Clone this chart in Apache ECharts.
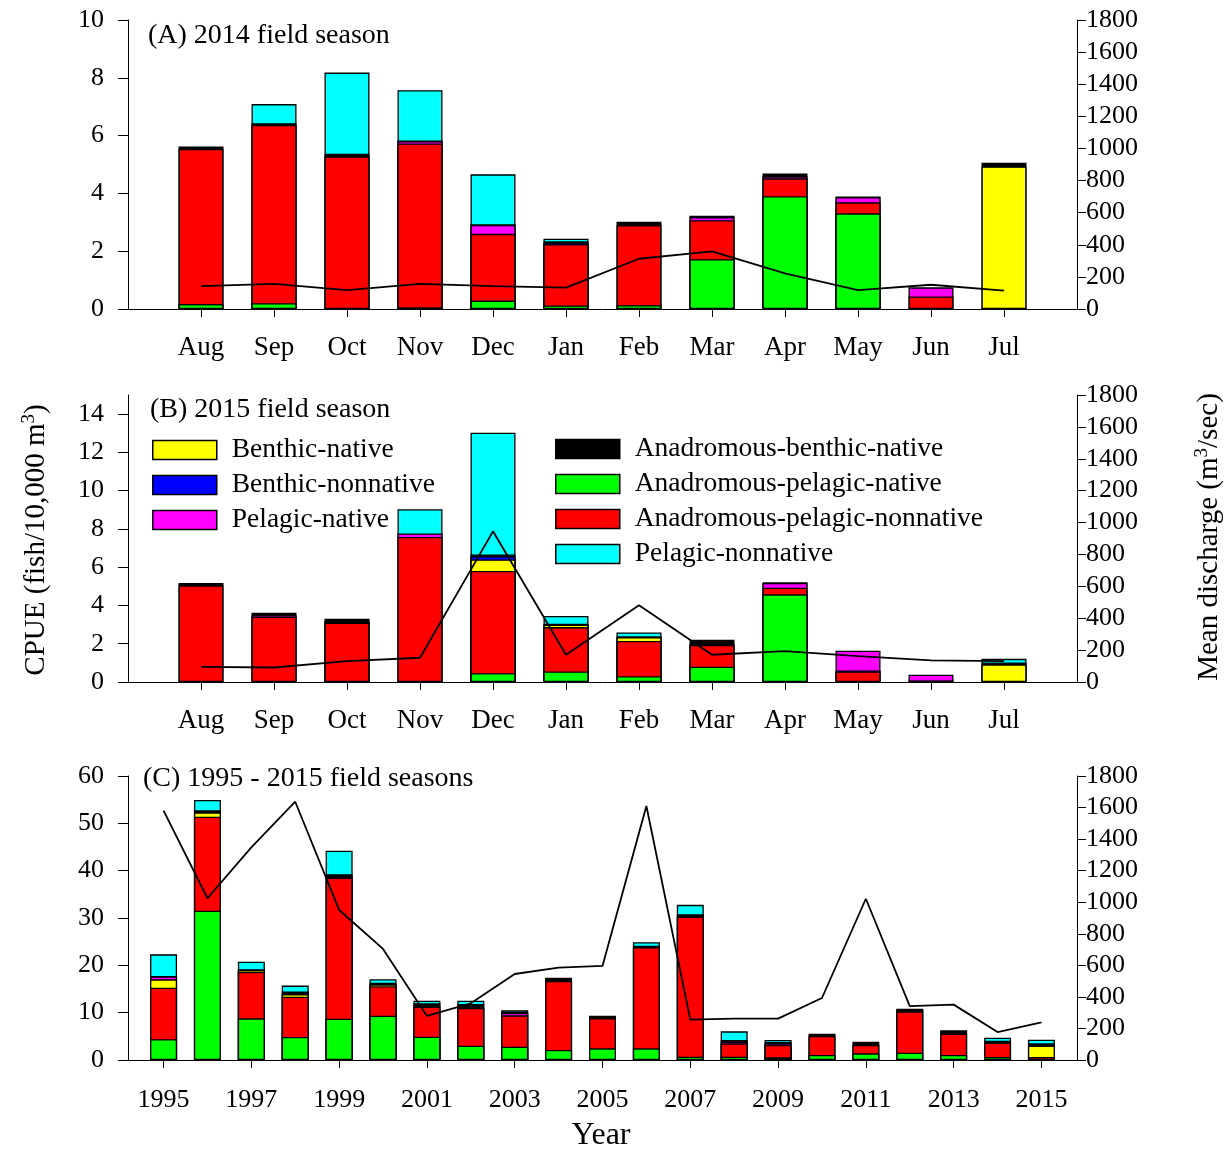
<!DOCTYPE html>
<html>
<head>
<meta charset="utf-8">
<script src="https://cdn.jsdelivr.net/npm/echarts@6/dist/echarts.min.js"></script>
<style>
html,body{margin:0;padding:0;background:#fff;}
#chart{width:1230px;height:1152px;}
</style>
</head>
<body>
<div id="chart"></div>
<script>
const FONT = '"Liberation Serif", "Times New Roman", serif';

const months = ['Aug','Sep','Oct','Nov','Dec','Jan','Feb','Mar','Apr','May','Jun','Jul'];
const years = [1995,1996,1997,1998,1999,2000,2001,2002,2003,2004,2005,2006,2007,2008,2009,2010,2011,2012,2013,2014,2015];
const yearTicks = [1995,1997,1999,2001,2003,2005,2007,2009,2011,2013,2015];

// stacking order, bottom to top
const groupNames = ['Anadromous-pelagic-native','Anadromous-pelagic-nonnative','Benthic-native','Benthic-nonnative','Pelagic-native','Anadromous-benthic-native','Pelagic-nonnative'];
const groupColors = ['#00FF00','#FF0000','#FFFF00','#0000FF','#FF00FF','#000000','#00FFFF'];

// (A) 2014 field season, CPUE per group
const a_green   = [0.17,0.20,0.02,0.05,0.29,0.12,0.13,1.72,3.90,3.31,0.00,0.02];
const a_red     = [5.37,6.17,5.26,5.68,2.31,2.12,2.77,1.35,0.62,0.38,0.43,0.00];
const a_yellow  = [0,0,0,0,0,0,0,0,0,0,0,4.91];
const a_blue    = [0,0,0,0,0,0.05,0,0,0,0,0,0];
const a_magenta = [0,0,0,0.08,0.31,0,0,0.11,0.07,0.18,0.32,0];
const a_black   = [0.08,0.06,0.09,0.02,0.02,0.05,0.12,0.05,0.10,0.02,0,0.13];
const a_cyan    = [0,0.66,2.81,1.74,1.73,0.09,0,0,0,0,0,0];
const a_discharge = [143,156,118,156,143,133,313,359,222,118,151,114];

// (B) 2015 field season
const b_green   = [0,0,0,0,0.46,0.55,0.30,0.80,4.58,0,0,0];
const b_red     = [5.05,3.41,3.10,7.58,5.34,2.32,1.84,1.13,0.35,0.55,0.08,0];
const b_yellow  = [0,0,0,0,0.60,0.12,0.20,0.05,0,0,0,0.92];
const b_blue    = [0,0,0.04,0,0.18,0,0,0,0,0.05,0,0];
const b_magenta = [0,0.08,0.06,0.18,0,0,0,0,0.25,1.03,0.30,0];
const b_black   = [0.12,0.13,0.10,0,0.08,0.06,0.05,0.23,0.03,0,0,0.10];
const b_cyan    = [0,0,0,1.27,6.37,0.40,0.20,0,0,0,0,0.19];
const b_discharge = [95,91,131,152,945,171,481,171,194,162,135,131];

// (C) 1995 - 2015 field seasons
const c_green   = [4.37,31.55,8.80,4.86,8.73,9.37,4.93,3.03,2.82,2.11,2.46,2.46,0.70,0.70,0.56,1.06,1.41,1.55,1.06,0.63,0.08];
const c_red     = [10.91,19.85,9.80,8.52,29.79,6.20,6.34,7.96,6.61,14.58,6.35,21.35,29.58,2.82,2.61,4.01,1.76,8.73,4.50,3.03,0.55];
const c_yellow  = [1.76,0.90,0.35,0.50,0,0.40,0,0,0,0,0,0,0,0,0,0,0,0,0,0,2.40];
const c_blue    = [0,0,0,0,0,0,0,0,0,0,0,0,0,0,0,0,0,0,0,0,0];
const c_magenta = [0.60,0,0,0,0,0,0,0,0.50,0,0,0,0,0.35,0.35,0,0,0,0,0,0];
const c_black   = [0.10,0.45,0.20,0.57,0.71,0.35,0.70,0.84,0.26,0.71,0.30,0.35,0.50,0.35,0.30,0.49,0.71,0.30,0.71,0.42,0.49];
const c_cyan    = [4.58,2.18,1.62,1.27,4.99,0.73,0.56,0.70,0.30,0,0.26,0.71,2.00,1.83,0.41,0,0,0.27,0,0.64,0.78];
const c_discharge = [1580,1025,1348,1637,951,704,279,359,545,585,596,1610,256,262,262,393,1022,342,351,177,239];

const cpueTicksA = [0,2,4,6,8,10];
const cpueTicksB = [0,2,4,6,8,10,12,14];
const cpueTicksC = [0,10,20,30,40,50,60];
const dischargeTicks = [0,200,400,600,800,1000,1200,1400,1600,1800];

const panels = [
  {x: months.map((m,i)=>i), groups:[a_green,a_red,a_yellow,a_blue,a_magenta,a_black,a_cyan], discharge:a_discharge, barWidth:45},
  {x: months.map((m,i)=>i), groups:[b_green,b_red,b_yellow,b_blue,b_magenta,b_black,b_cyan], discharge:b_discharge, barWidth:45},
  {x: years, groups:[c_green,c_red,c_yellow,c_blue,c_magenta,c_black,c_cyan], discharge:c_discharge, barWidth:27}
];

const gridTops = [20, 395, 776];
const gridHeights = [289, 287, 284];
const grids = gridTops.map((t,i)=>({left:128, width:949, top:t, height:gridHeights[i]}));

const axisLineStyle = {lineStyle:{color:'#000', width:1}};
const labelStyle = {color:'#000', fontFamily:FONT, fontSize:26};

const xAxes = [0,1,2].map(p=>{
  const isYear = p === 2;
  const vals = isYear ? yearTicks : months.map((m,i)=>i);
  return {
    type:'value', gridIndex:p,
    min: isYear ? 1994.19 : -1,
    max: isYear ? 2015.81 : 12,
    axisLine:{show:true, onZero:false, ...axisLineStyle},
    axisTick:{show:true, length:8, customValues: vals, lineStyle:{color:'#000'}},
    axisLabel:{...labelStyle, fontSize: isYear ? 26 : 27, margin: isYear ? 27 : 25, customValues: vals,
      formatter: v => isYear ? String(v) : months[Math.round(v)]},
    splitLine:{show:false}
  };
});

const leftTicks = [cpueTicksA, cpueTicksB, cpueTicksC];
const leftMax = [10, 15, 60];
const yAxes = [];
[0,1,2].forEach(p=>{
  yAxes.push({
    type:'value', gridIndex:p, position:'left', min:0, max:leftMax[p],
    axisLine:{show:true, onZero:false, ...axisLineStyle},
    axisTick:{show:true, length:10, customValues:leftTicks[p], lineStyle:{color:'#000'}},
    axisLabel:{...labelStyle, margin:24, customValues:leftTicks[p], formatter: v => String(v)},
    splitLine:{show:false}
  });
  yAxes.push({
    type:'value', gridIndex:p, position:'right', min:0, max:1800,
    axisLine:{show:true, onZero:false, ...axisLineStyle},
    axisTick:{show:true, length:9, customValues:dischargeTicks, lineStyle:{color:'#000'}},
    axisLabel:{...labelStyle, margin:9, customValues:dischargeTicks, formatter: v => String(v)},
    splitLine:{show:false}
  });
});

const series = [];
panels.forEach((pan,p)=>{
  // cumulative tops of each layer (bottom to top)
  const cum = [];
  let run = pan.x.map(()=>0);
  pan.groups.forEach(vals=>{
    run = run.map((r,i)=>r + vals[i]);
    cum.push(run.slice());
  });
  // draw top layer first so lower layers overlay it
  for (let g = pan.groups.length - 1; g >= 0; g--) {
    series.push({
      type:'bar', name:groupNames[g],
      xAxisIndex:p, yAxisIndex:2*p,
      barWidth:pan.barWidth, barGap:'-100%',
      itemStyle:{color:groupColors[g], borderColor:'#000', borderWidth:1.3},
      emphasis:{disabled:true},
      animation:false,
      data: pan.x.map((x,i)=>[x, pan.groups[g][i] > 0 ? cum[g][i] : '-'])
    });
  }
  series.push({
    type:'line', name:'Mean discharge', xAxisIndex:p, yAxisIndex:2*p+1,
    showSymbol:false, symbol:'none', z:10,
    lineStyle:{color:'#000', width:1.8},
    animation:false,
    data: pan.x.map((x,i)=>[x, pan.discharge[i]])
  });
});

const legendText = {color:'#000', fontFamily:FONT, fontSize:27.5, lineHeight:28, padding:[0,0,0,10]};
const legendBase = {orient:'vertical', itemWidth:64, itemHeight:19, itemGap:7, padding:0, selectedMode:false,
   icon:'rect', itemStyle:{borderColor:'#000', borderWidth:1.5}, textStyle:legendText};
const legends = [
  {...legendBase, left:152, top:436, data:['Benthic-native','Benthic-nonnative','Pelagic-native']},
  {...legendBase, left:555, top:435, data:['Anadromous-benthic-native','Anadromous-pelagic-native','Anadromous-pelagic-nonnative','Pelagic-nonnative']}
];

const titleStyle = {color:'#000', fontFamily:FONT, fontSize:28, fontWeight:'normal'};
const titles = [
  {text:'(A) 2014 field season', left:143, top:17, textStyle:titleStyle},
  {text:'(B) 2015 field season', left:145, top:391, textStyle:titleStyle},
  {text:'(C) 1995 - 2015 field seasons', left:138, top:760, textStyle:titleStyle}
];

const rich = {
  n:{fontFamily:FONT, fontSize:29, color:'#000', lineHeight:32},
  s:{fontFamily:FONT, fontSize:19, color:'#000', verticalAlign:'top', lineHeight:32, padding:[0,0,14,0]}
};

const chart = echarts.init(document.getElementById('chart'), null, {renderer:'canvas'});
chart.setOption({
  animation:false,
  backgroundColor:'#fff',
  title: titles,
  legend: legends,
  grid: grids,
  xAxis: xAxes,
  yAxis: yAxes,
  series: series,
  graphic: [
    {type:'text', x:36, y:540, rotation:Math.PI/2,
     style:{text:'{n|CPUE (fish/10,000 m}{s|3}{n|)}', rich:rich, align:'center', verticalAlign:'middle'}},
    {type:'text', x:1209, y:537, rotation:Math.PI/2,
     style:{text:'{n|Mean discharge (m}{s|3}{n|/sec)}', rich:rich, align:'center', verticalAlign:'middle'}},
    {type:'text', x:601, y:1136,
     style:{text:'Year', fontFamily:FONT, fontSize:32, fill:'#000', align:'center', verticalAlign:'middle'}}
  ]
});
</script>
</body>
</html>
